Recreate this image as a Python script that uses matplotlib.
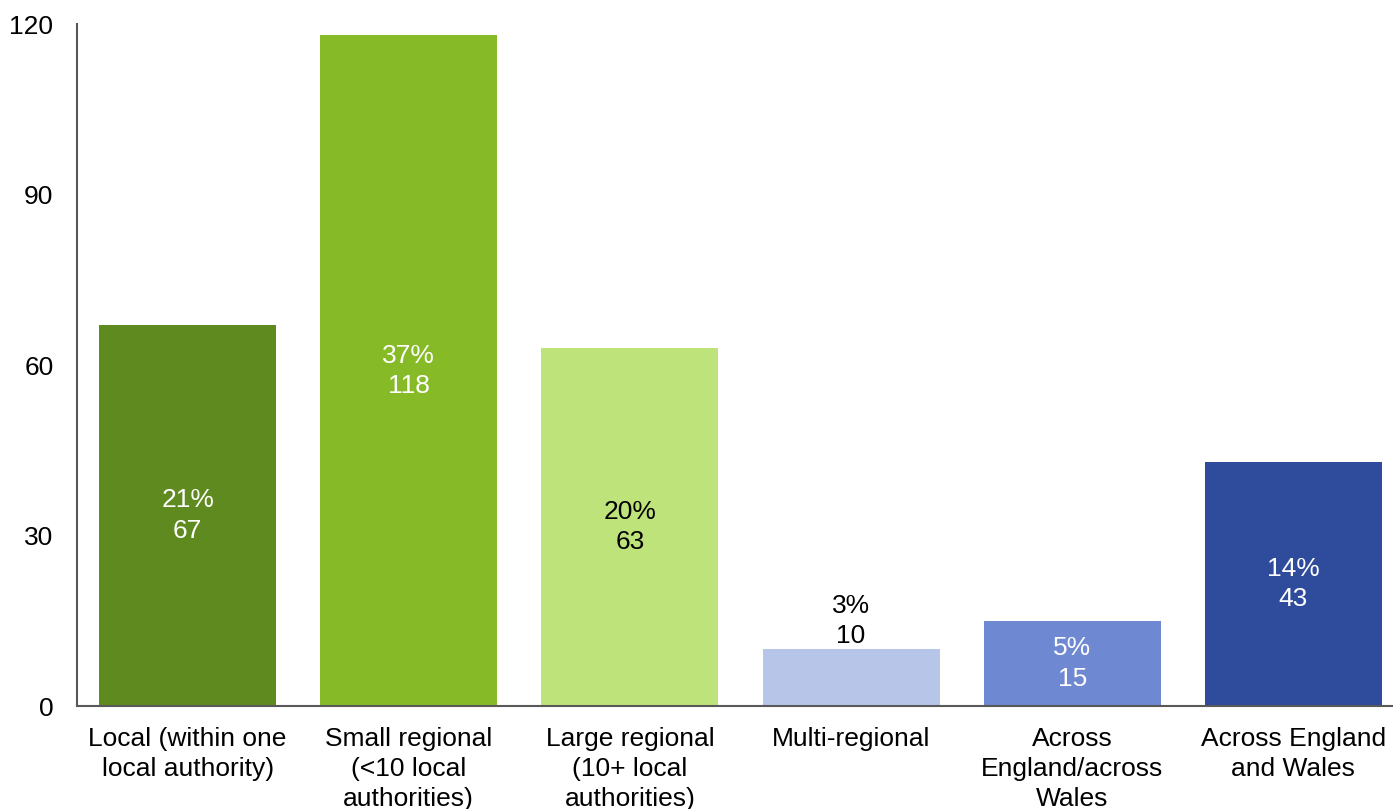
import matplotlib
matplotlib.use("Agg")
import matplotlib.pyplot as plt

plt.rcParams['font.family'] = ['Liberation Sans', 'DejaVu Sans']

categories = ["Local (within one\nlocal authority)",
              "Small regional\n(<10 local\nauthorities)",
              "Large regional\n(10+ local\nauthorities)",
              "Multi-regional",
              "Across\nEngland/across\nWales",
              "Across England\nand Wales"]
values = [67, 118, 63, 10, 15, 43]
percents = ["21%", "37%", "20%", "3%", "5%", "14%"]
colors = ["#5f8a1f", "#86bb27", "#bfe37b", "#b6c5e8", "#6f88d2", "#2f4b9b"]
label_colors = ["white", "white", "black", "black", "white", "white"]
inside = [True, True, True, False, True, True]

FS = 19
LS = 1.33
W, H = 1393, 809
fig = plt.figure(figsize=(W / 100, H / 100), dpi=100)
left, right, bottom, top = 77, 1404, 706, 24
ax = fig.add_axes([left / W, 1 - bottom / H, (right - left) / W, (bottom - top) / H])

x = list(range(len(values)))
ax.bar(x, values, width=0.8, color=colors, zorder=2)
ax.set_xlim(-0.5, 5.5)
ax.set_ylim(0, 120)
ax.set_yticks([0, 30, 60, 90, 120])
ax.set_xticks(x)
ax.set_xticklabels(categories, fontsize=FS, linespacing=LS)
ax.tick_params(axis='y', length=0, pad=17, labelsize=FS)
ax.tick_params(axis='x', length=0, pad=15)
for s in ['top', 'right']:
    ax.spines[s].set_visible(False)
for s in ['left', 'bottom']:
    ax.spines[s].set_color('#595959')
    ax.spines[s].set_linewidth(1.5)

for xi, v, p, c, ins in zip(x, values, percents, label_colors, inside):
    if ins:
        ax.text(xi, v / 2, f"{p}\n{v}", ha='center', va='center', color=c,
                fontsize=FS, linespacing=LS)
    else:
        ax.annotate(f"{p}\n{v}", (xi, v), xytext=(0, 28), textcoords='offset pixels',
                    ha='center', va='center', color=c, fontsize=FS, linespacing=LS)

fig.savefig("out.png", dpi=100)
